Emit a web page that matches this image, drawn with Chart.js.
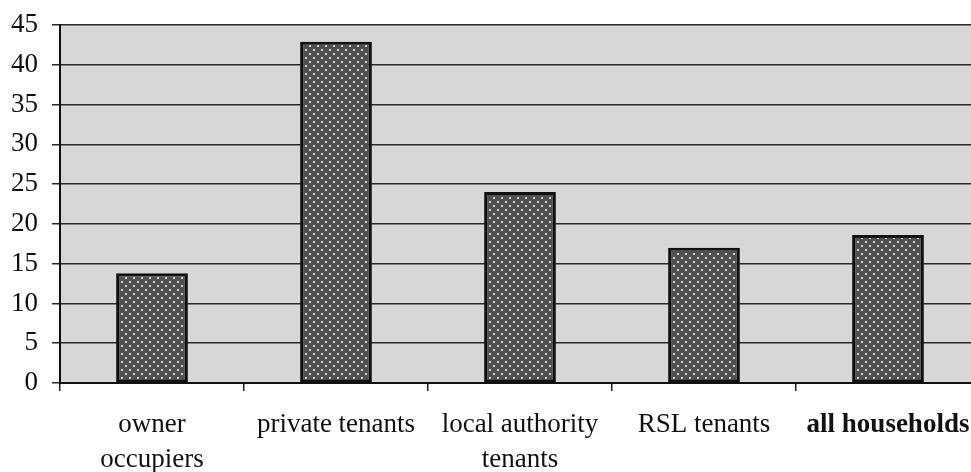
<!DOCTYPE html>
<html>
<head>
<meta charset="utf-8">
<script src="https://cdn.jsdelivr.net/npm/chart.js@4.4.0/dist/chart.umd.min.js"></script>
<style>
  html, body { margin: 0; padding: 0; background: #fff; overflow: hidden; }
  #wrap { width: 990px; height: 472px; }
</style>
</head>
<body>
<div id="wrap"><canvas id="chart" width="990" height="472"></canvas></div>
<script>
// data
const categories = [
  ['owner', 'occupiers'],
  'private tenants',
  ['local authority', 'tenants'],
  'RSL tenants',
  'all households'
];
const values = [13.8, 42.9, 24.0, 17.0, 18.6];
const yTicks = [0, 5, 10, 15, 20, 25, 30, 35, 40, 45];

// dotted fill for the bars
function dotPattern() {
  const c = document.createElement('canvas');
  c.width = 8; c.height = 8;
  const g = c.getContext('2d');
  g.fillStyle = '#505050';
  g.fillRect(0, 0, 8, 8);
  g.fillStyle = '#efefef';
  [[2, 2], [6, 6]].forEach(([x, y]) => {
    g.beginPath();
    g.arc(x, y, 1.1, 0, Math.PI * 2);
    g.fill();
  });
  return g.createPattern(c, 'repeat');
}

const ctx = document.getElementById('chart').getContext('2d');

// grey plot background
const plotBg = {
  id: 'plotBg',
  beforeDraw(chart) {
    const a = chart.chartArea;
    const g = chart.ctx;
    g.save();
    g.fillStyle = '#d7d7d7';
    g.fillRect(a.left, a.top, a.right - a.left, a.bottom - a.top);
    g.restore();
  }
};

const serif = 'Liberation Serif, "Times New Roman", serif';

new Chart(ctx, {
  type: 'bar',
  data: {
    labels: categories,
    datasets: [{
      data: values,
      backgroundColor: dotPattern(),
      borderColor: '#111',
      borderWidth: 3,
      borderSkipped: false,
      barPercentage: 0.39,
      categoryPercentage: 1
    }]
  },
  options: {
    responsive: false,
    animation: false,
    layout: { padding: { top: 25, right: 10, left: 0, bottom: 0 } },
    plugins: {
      legend: { display: false },
      tooltip: { enabled: false }
    },
    scales: {
      x: {
        grid: {
          offset: true,
          drawOnChartArea: false,
          tickLength: 8,
          color: '#222',
          lineWidth: 1.5
        },
        border: { color: '#111', width: 2 },
        ticks: {
          color: '#111',
          padding: 16,
          maxRotation: 0,
          autoSkip: false,
          font: (c) => ({
            family: serif,
            size: 27,
            lineHeight: 1.3,
            weight: c.index === 4 ? 'bold' : 'normal'
          })
        },
        afterFit: (s) => {
          s.height = 89;
          s.paddingLeft = 0;
          s.paddingRight = 0;
        }
      },
      y: {
        min: 0,
        max: 45,
        afterBuildTicks: (s) => { s.ticks = yTicks.map(v => ({ value: v })); },
        grid: {
          color: '#2a2a2a',
          lineWidth: 1.5,
          tickLength: 8
        },
        border: { color: '#111', width: 2 },
        ticks: {
          color: '#111',
          padding: 14,
          font: { family: serif, size: 27 }
        },
        afterFit: (s) => {
          s.width = 60;
          s.paddingTop = 0;
          s.paddingBottom = 0;
        }
      }
    }
  },
  plugins: [plotBg]
});
</script>
</body>
</html>
